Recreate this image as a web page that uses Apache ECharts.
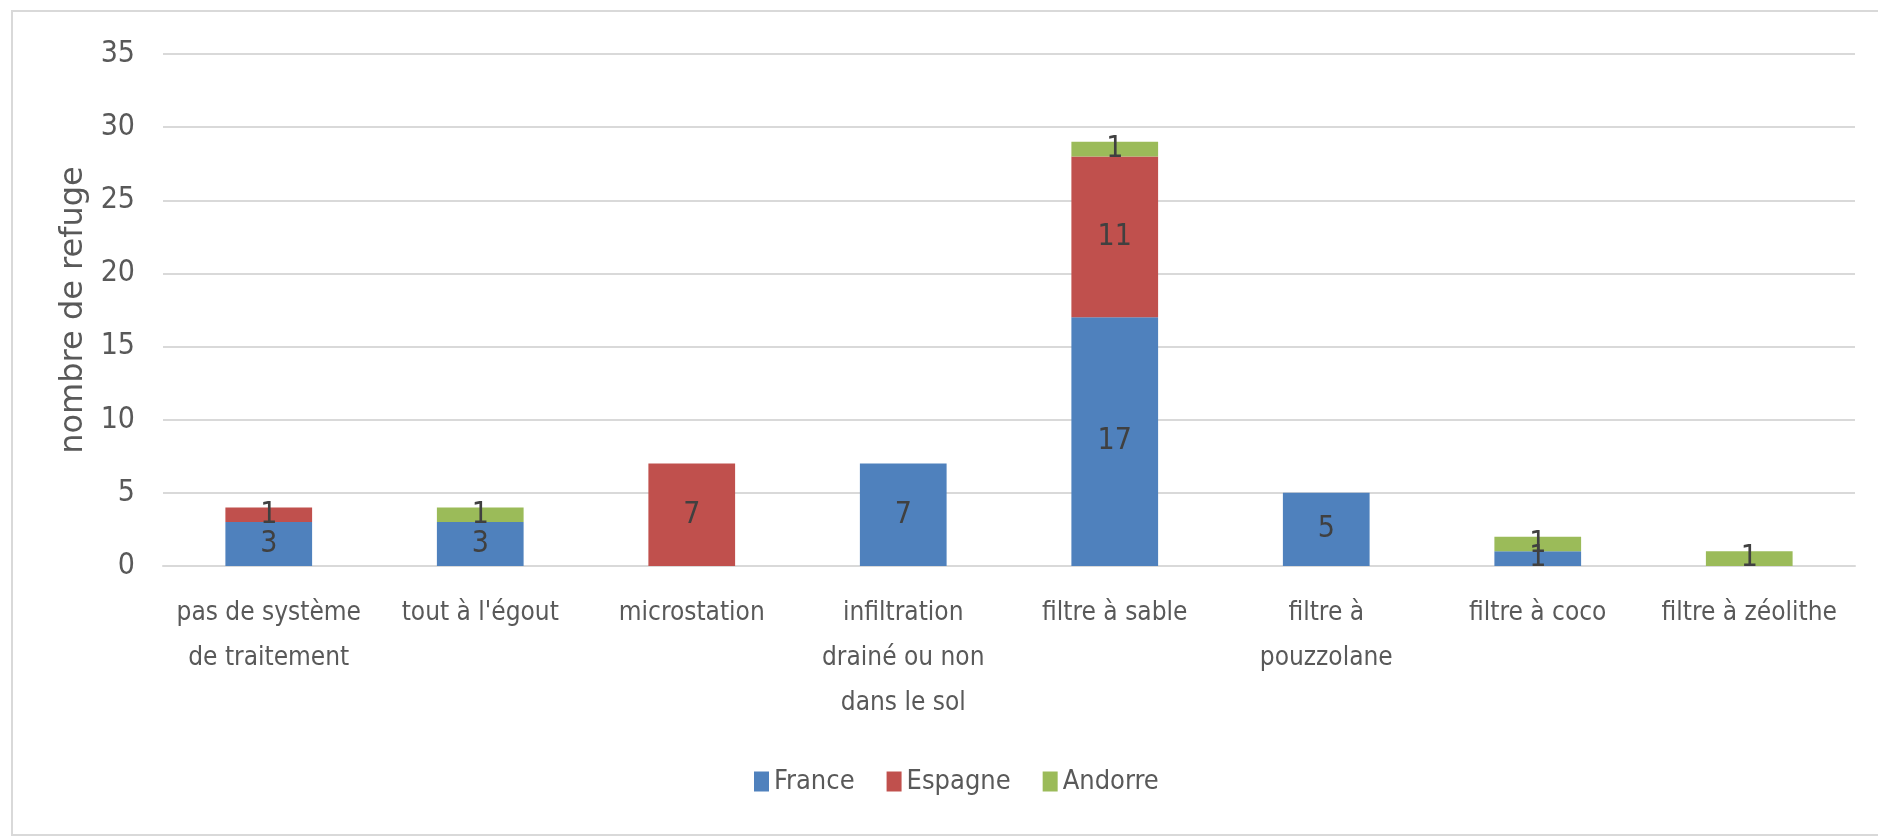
<!DOCTYPE html>
<html>
<head>
<meta charset="utf-8">
<script src="https://cdn.jsdelivr.net/npm/echarts@6/dist/echarts.min.js"></script>
<style>
  html, body { margin: 0; padding: 0; background: #fff; }
  #chart { width: 1878px; height: 840px; }
</style>
</head>
<body>
<div id="chart"></div>
<script>
const categories = [
  'pas de système\nde traitement',
  "tout à l'égout",
  'microstation',
  'infiltration\ndrainé ou non\ndans le sol',
  'filtre à sable',
  'filtre à\npouzzolane',
  'filtre à coco',
  'filtre à zéolithe'
]
const france = [3, 3, null, 7, 17, 5, 1, null]
const espagne = [1, null, 7, null, 11, null, null, null]
const andorre = [null, 1, null, null, 1, null, 1, 1]
const seriesNames = ['France', 'Espagne', 'Andorre']
const colors = ['#4F81BD', '#C0504D', '#9BBB59']

const narrow = "'Liberation Sans Narrow', 'DejaVu Sans Condensed', sans-serif"

const chart = echarts.init(document.getElementById('chart'), null, { renderer: 'canvas' })

function barSeries(name, data, color) {
  return {
    name,
    type: 'bar',
    stack: 'total',
    data,
    barWidth: '41%',
    itemStyle: { color },
    label: {
      show: true,
      position: 'inside',
      color: '#404040',
      fontFamily: narrow,
      fontSize: 30
    },
    animation: false
  }
}

chart.setOption({
  backgroundColor: '#fff',
  color: colors,
  graphic: [{
    type: 'rect',
    shape: { x: 12, y: 11, width: 1900, height: 824 },
    style: { fill: 'none', stroke: '#D9D9D9', lineWidth: 2 },
    silent: true,
    z: -1
  }],
  grid: { left: 163, right: 23, top: 54, bottom: 274 },
  legend: {
    data: seriesNames,
    left: 749,
    top: 763,
    itemWidth: 15,
    itemHeight: 20,
    itemGap: 32,
    icon: 'rect',
    textStyle: { color: '#595959', fontFamily: narrow, fontSize: 27 }
  },
  xAxis: {
    type: 'category',
    data: categories,
    axisLine: { lineStyle: { color: '#D9D9D9', width: 2 } },
    axisTick: { show: false },
    axisLabel: {
      interval: 0,
      margin: 25,
      color: '#595959',
      fontFamily: narrow,
      fontSize: 26,
      lineHeight: 45
    }
  },
  yAxis: {
    type: 'value',
    min: 0,
    max: 35,
    interval: 5,
    name: 'nombre de refuge',
    nameLocation: 'middle',
    nameGap: 72,
    nameTextStyle: { color: '#595959', fontFamily: "'DejaVu Sans', sans-serif", fontSize: 32 },
    axisLine: { show: false },
    axisTick: { show: false },
    splitLine: { lineStyle: { color: '#D9D9D9', width: 2 } },
    axisLabel: {
      margin: 28,
      color: '#595959',
      fontFamily: narrow,
      fontSize: 30
    }
  },
  series: [
    barSeries(seriesNames[0], france, colors[0]),
    barSeries(seriesNames[1], espagne, colors[1]),
    barSeries(seriesNames[2], andorre, colors[2])
  ]
})
</script>
</body>
</html>
